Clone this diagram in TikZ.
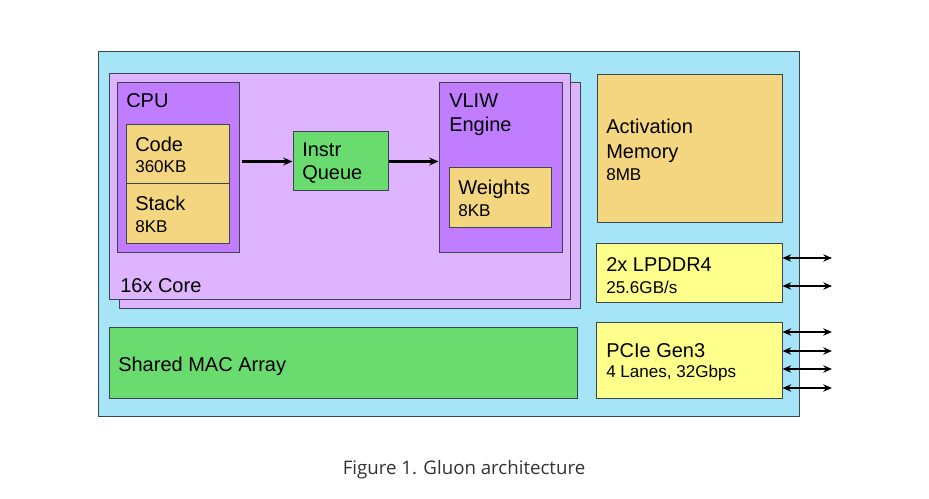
\documentclass[tikz,border=0pt]{standalone}
\usepackage{fontspec}
\setmainfont{Liberation Sans}
\newfontfamily\capfont{Open Sans}
\usetikzlibrary{fit,arrows.meta}
\definecolor{bgblue}{HTML}{A6E4F8}
\definecolor{lpurple}{HTML}{DDB4FD}
\definecolor{dpurple}{HTML}{C17DFF}
\definecolor{tan}{HTML}{F5D680}
\definecolor{mgreen}{HTML}{6ADB6E}
\definecolor{lyellow}{HTML}{FFFF8C}
\definecolor{edge}{HTML}{3A4550}
\definecolor{captxt}{HTML}{333333}
\tikzset{
  box/.style={draw=edge, line width=0.75pt, inner sep=0pt},
  big/.style={anchor=base west, inner sep=0pt, font=\fontsize{15}{18}\selectfont},
  small/.style={anchor=base west, inner sep=0pt, font=\fontsize{12.8}{15}\selectfont},
  arr/.style={line width=1.6pt, -{Stealth[length=7pt,width=6pt]}},
  darr/.style={line width=1.4pt, {Stealth[length=6.5pt,width=5.5pt]}-{Stealth[length=6.5pt,width=5.5pt]}},
}
\begin{document}
\begin{tikzpicture}[x=0.75pt,y=-0.75pt]
\useasboundingbox (0,0) rectangle (929,499);
% outer
\node[box, fill=bgblue, fit={(98,52) (799,416)}] (outer) {};
% core stack
\node[box, fill=lpurple, fit={(119,83) (580,309)}] (coreback) {};
\node[box, fill=lpurple, fit={(109,74) (570,300)}] (core) {};
\node[big] (corelbl) at (120,292) {16x Core};
% CPU
\node[box, fill=dpurple, fit={(117,83) (239,253)}] (cpu) {};
\node[big] (cpulbl) at (126,108) {CPU};
\node[box, fill=tan, fit={(126,125) (229,184)}] (code) {};
\node[box, fill=tan, fit={(126,184) (229,244)}] (stack) {};
\node[big] (codelbl) at (135,152) {Code};
\node[small] (codesz) at (135,173) {360KB};
\node[big] (stacklbl) at (135,211) {Stack};
\node[small] (stacksz) at (135,233) {8KB};
% Instr queue
\node[box, fill=mgreen, fit={(293,132) (388,191)}] (queue) {};
\node[big] (q1) at (302,157) {Instr};
\node[big] (q2) at (302,180) {Queue};
% VLIW
\node[box, fill=dpurple, fit={(439,83) (562,253)}] (vliw) {};
\node[big] (v1) at (449,108) {VLIW};
\node[big] (v2) at (449,132) {Engine};
\node[box, fill=tan, fit={(449,168) (551,228)}] (weights) {};
\node[big] (w1) at (458,195) {Weights};
\node[small] (w2) at (458,217) {8KB};
% arrows
\draw[arr] (cpu.east |- queue.west) ++(2,0) -- (queue.west);
\draw[arr] (queue.east) -- (vliw.west |- queue.east);
% MAC
\node[box, fill=mgreen, fit={(109,327) (577,398)}] (mac) {};
\node[big] (maclbl) at (118,371) {Shared MAC Array};
% activation memory
\node[box, fill=tan, fit={(597,75) (782,223)}] (act) {};
\node[big] (a1) at (606,134) {Activation};
\node[big] (a2) at (606,159) {Memory};
\node[small] (a3) at (606,181) {8MB};
% LPDDR4
\node[box, fill=lyellow, fit={(596,244) (782,303)}] (ddr) {};
\node[big] (d1) at (606,272) {2x LPDDR4};
\node[small] (d2) at (606,293) {25.6GB/s};
% PCIe
\node[box, fill=lyellow, fit={(596,322) (782,398)}] (pcie) {};
\node[big] (p1) at (606,357) {PCIe Gen3};
\node[small] (p2) at (606,377) {4 Lanes, 32Gbps};
% external arrows
\coordinate (e1) at (832,258);
\coordinate (e2) at (832,286);
\coordinate (e3) at (832,332);
\coordinate (e4) at (832,351);
\coordinate (e5) at (832,369);
\coordinate (e6) at (832,388);
\draw[darr] (ddr.east |- e1) -- (e1);
\draw[darr] (ddr.east |- e2) -- (e2);
\draw[darr] (pcie.east |- e3) -- (e3);
\draw[darr] (pcie.east |- e4) -- (e4);
\draw[darr] (pcie.east |- e5) -- (e5);
\draw[darr] (pcie.east |- e6) -- (e6);
% caption
\node[anchor=base, inner sep=0pt, text=captxt, font=\capfont\fontsize{14}{17}\selectfont] (cap) at (464,474) {Figure 1. Gluon architecture};
\end{tikzpicture}
\end{document}
